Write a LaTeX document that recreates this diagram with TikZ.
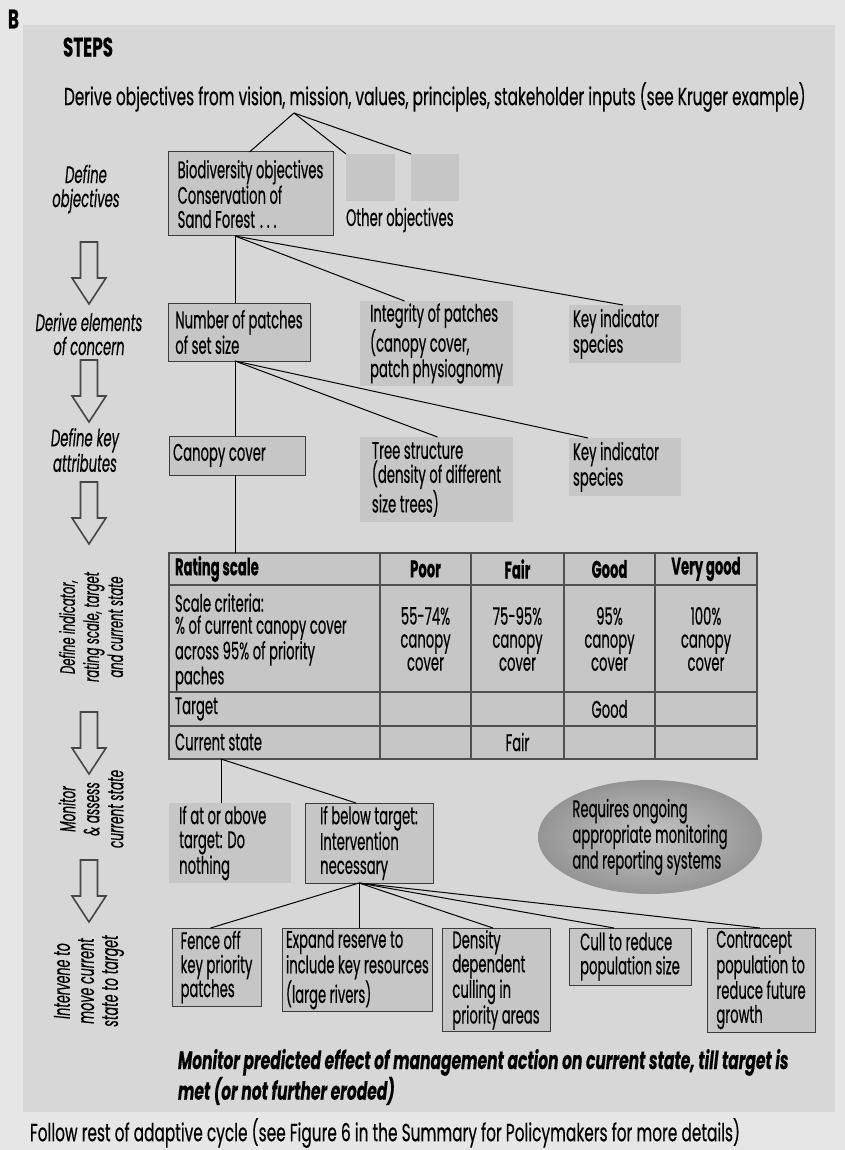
\documentclass[tikz,border=0pt]{standalone}
\usepackage{fontspec}
\setmainfont[FakeStretch=0.55, FakeBold=0.4]{Poppins}
\newfontfamily\ttlfam[FakeStretch=0.62, FakeBold=0.4]{Poppins}
\usetikzlibrary{shapes.geometric,calc}
\definecolor{pagebg}{RGB}{230,230,230}
\definecolor{panelbg}{RGB}{215,215,215}
\definecolor{boxfill}{RGB}{198,198,198}
\definecolor{boxline}{RGB}{60,60,60}
\definecolor{tabline}{RGB}{80,80,80}
\definecolor{arrowline}{RGB}{70,70,70}
\newcommand{\bxfont}{\fontsize{24}{24}\selectfont}
\newcommand{\rotfont}{\fontsize{22}{24}\selectfont\itshape}
\begin{document}
\begin{tikzpicture}[x=1pt,y=-1pt,
  every node/.style={inner sep=0pt, outer sep=0pt},
  box/.style={draw=boxline, line width=1pt, fill=boxfill, anchor=north west, align=left, inner xsep=4pt, inner ysep=2pt, font=\bxfont},
  plainbox/.style={fill=boxfill, anchor=north west, align=left, inner xsep=4pt, inner ysep=2pt, font=\bxfont},
  lbl/.style={align=center, font=\bxfont\itshape},
  rlbl/.style={align=center, font=\rotfont, rotate=90},
  conn/.style={line width=1pt, black},
  cell/.style={font=\bxfont, align=center},
  hcell/.style={font=\bxfont\bfseries, align=center},
  bigarrow/.pic={\draw[arrowline, line width=1.6pt, fill=panelbg, line join=miter]
     (-8.5,0) -- (8.5,0) -- (8.5,36) -- (17,36) -- (0,62) -- (-17,36) -- (-8.5,36) -- cycle;}
]
\useasboundingbox (0,0) rectangle (845,1150);
\fill[pagebg] (0,0) rectangle (845,1150);
\fill[panelbg] (23,25) rectangle (835,1112);

\node[font=\ttlfam\bfseries\fontsize{27}{28}\selectfont, anchor=west] (B) at (8,19) {B};
\node[font=\ttlfam\bfseries\fontsize{27}{28}\selectfont, anchor=west] (steps) at (63,47) {STEPS};
\node[font=\ttlfam\fontsize{24.7}{26}\selectfont, anchor=west] (title) at (64,97) {Derive objectives from vision, mission, values, principles, stakeholder inputs (see Kruger example)};
\coordinate (fork) at (294,113);

% level 1
\node[box, minimum width=165pt, minimum height=84pt] (bio) at (168,152) {Biodiversity objectives\\Conservation of\\Sand Forest\hspace{5pt}.\hspace{4pt}.\hspace{4pt}.};
\node[plainbox, minimum width=49pt, minimum height=47pt] (g1) at (346,154) {};
\node[plainbox, minimum width=48pt, minimum height=47pt] (g2) at (411,154) {};
\node[font=\bxfont, anchor=west] (other) at (346,220) {Other objectives};
\draw[conn] (fork) -- ([xshift=-1pt]bio.north);
\draw[conn] (fork) -- (g1.north west);
\draw[conn] (fork) -- (g2.north west);

% level 2
\coordinate (bioS) at ([xshift=67pt]bio.south west);
\node[box, minimum width=142pt, minimum height=58pt] (num) at (168,303) {Number of patches\\of set size};
\node[plainbox, minimum width=153pt, minimum height=85pt] (integ) at (360,301) {Integrity of patches\\(canopy cover,\\patch physiognomy};
\node[plainbox, minimum width=106pt, minimum height=58pt] (key1) at (569,305) {Key indicator\\species\phantom{gggggg}};
\draw[conn] (bioS) -- (bioS |- num.north);
\draw[conn] (bioS) -- ([xshift=-32pt]integ.north);
\draw[conn] (bioS) -- ([xshift=-2pt]key1.north);

% level 3
\coordinate (numS) at ([xshift=67pt]num.south west);
\node[box, minimum width=125pt, minimum height=39pt] (canopy) at (169,436) {Canopy cover\phantom{gggg}};
\node[plainbox, minimum width=153pt, minimum height=85pt] (tree) at (360,437) {Tree structure\\(density of different\\size trees)};
\node[plainbox, minimum width=106pt, minimum height=58pt] (key2) at (569,438) {Key indicator\\species\phantom{gggggg}};
\draw[conn] (numS) -- (numS |- canopy.north);
\draw[conn] (numS) -- ([xshift=1pt]tree.north);
\draw[conn] (numS) -- ([xshift=-37pt]key2.north);

% table
\node[fill=boxfill, draw=tabline, line width=1.6pt, anchor=north west, minimum width=588pt, minimum height=206pt] (tbl) at (169,553) {};
\draw[conn] (numS |- canopy.south) -- (numS |- tbl.north);
\draw[tabline, line width=1.6pt]
  (380,553) -- (380,759) (471,553) -- (471,759) (564,553) -- (564,759) (655,553) -- (655,759)
  (169,585) -- (757,585) (169,692) -- (757,692) (169,726) -- (757,726);
\node[hcell, anchor=west] (h0) at (175,569) {Rating scale};
\node[hcell] (h1) at (425.5,569) {Poor};
\node[hcell] (h2) at (517.5,569) {Fair};
\node[hcell] (h3) at (609.5,569) {Good};
\node[hcell] (h4) at (706,569) {Very good};
\node[cell, anchor=west, align=left, font=\fontsize{24}{22}\selectfont] (c0) at (175,642) {Scale criteria:\\\% of current canopy cover\\across 95\% of priority\\paches};
\node[cell, font=\fontsize{24}{23}\selectfont] (c1) at (425.5,639) {55-74\%\\canopy\\cover};
\node[cell, font=\fontsize{24}{23}\selectfont] (c2) at (517.5,639) {75-95\%\\canopy\\cover};
\node[cell, font=\fontsize{24}{23}\selectfont] (c3) at (609.5,639) {95\%\\canopy\\cover};
\node[cell, font=\fontsize{24}{23}\selectfont] (c4) at (706,639) {100\%\\canopy\\cover};
\node[cell, anchor=west] (t0) at (175,709) {Target};
\node[cell] (t3) at (609.5,709) {Good};
\node[cell, anchor=west] (s0) at (175,742) {Current state};
\node[cell] (s2) at (517.5,742) {Fair};

% monitor level
\coordinate (tblS) at ([xshift=52pt]tbl.south west);
\node[plainbox, minimum width=122pt, minimum height=80pt] (ifat) at (169,803) {If at or above\\target: Do\phantom{gggg}\\nothing};
\node[box, minimum width=128pt, minimum height=80pt] (ifb) at (305,803) {If below target:\\Intervention\\necessary};
\draw[conn] (tblS) -- (tblS |- ifat.north);
\draw[conn] (tblS) -- ([xshift=-13pt]ifb.north);

\node[ellipse, minimum width=224pt, minimum height=114pt, inner color=black!22, outer color=black!42, font=\bxfont, align=left] (req) at (650,837) {Requires ongoing\\appropriate monitoring\\and reporting systems};

% interventions
\coordinate (ifbS) at ([xshift=-10pt]ifb.south);
\node[box, minimum width=89pt, minimum height=78pt] (fence) at (172,928) {Fence off\\key priority\\patches};
\node[box, minimum width=140pt, minimum height=81pt] (expand) at (282,928) {Expand reserve to\\include key resources\\(large rivers)};
\node[box, minimum width=108pt, minimum height=102pt] (density) at (442,928) {Density\\dependent\\culling in\\priority areas};
\node[box, minimum width=122pt, minimum height=57pt] (cull) at (569,928) {Cull to reduce\\population size};
\node[box, minimum width=108pt, minimum height=104pt] (contra) at (707,928) {Contracept\\population to\\reduce future\\growth};
\draw[conn] (ifbS) -- ([xshift=-6pt]fence.north);
\draw[conn] (ifbS) -- (ifbS |- expand.north);
\draw[conn] (ifbS) -- ([xshift=-3pt]density.north);
\draw[conn] (ifbS) -- ([xshift=-16pt]cull.north);
\draw[conn] (ifbS) -- ([xshift=-1pt]contra.north);

\node[font=\ttlfam\fontsize{25}{26}\selectfont\bfseries\itshape, anchor=north west, align=left] (mon) at (178,1049) {Monitor predicted effect of management action on current state, till target is\\met (or not further eroded)};
\node[font=\ttlfam\fontsize{24.8}{26}\selectfont, anchor=west] (follow) at (30,1133) {Follow rest of adaptive cycle (see Figure 6 in the Summary for Policymakers for more details)};

% left step labels
\node[lbl] (s1) at (86,189) {Define\\objectives};
\node[lbl] (s2l) at (89,334) {Derive elements\\of concern};
\node[lbl] (s3) at (85,450) {Define key\\attributes};
\node[rlbl, font=\fontsize{21}{24}\selectfont\itshape] (s4) at (91,627) {Define indicator,\\rating scale, target\\and current state};
\node[rlbl] (s5) at (91,809) {Monitor\\\& assess\\current state};
\node[rlbl, font=\fontsize{23}{24}\selectfont\itshape] (s6) at (89,981) {Intervene to\\move current\\state to target};
\pic at (89,242) {bigarrow};
\pic at (89,360) {bigarrow};
\pic at (89,482) {bigarrow};
\pic at (89,712) {bigarrow};
\pic at (89,860) {bigarrow};
\end{tikzpicture}
\end{document}
